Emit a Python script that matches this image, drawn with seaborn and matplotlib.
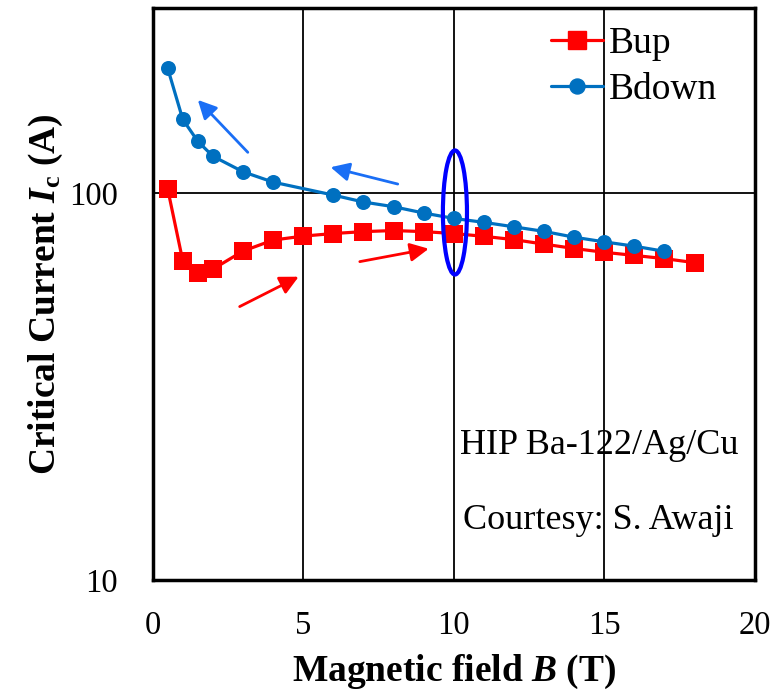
import numpy as np
import pandas as pd
import seaborn as sns
import matplotlib.pyplot as plt
from matplotlib.patches import Ellipse

# data
b_up = [0.5, 1, 1.5, 2, 3, 4, 5, 6, 7, 8, 9, 10, 11, 12, 13, 14, 15, 16, 17, 18]
ic_up = [102.4, 66.8, 62.3, 63.6, 70.8, 75.6, 77.4, 78.6, 79.5, 80.0, 79.5,
         78.6, 77.3, 75.8, 73.8, 71.9, 70.3, 69.0, 67.7, 66.1]
b_down = [0.5, 1, 1.5, 2, 3, 4, 6, 7, 8, 9, 10, 11, 12, 13, 14, 15, 16, 17]
ic_down = [210, 155, 136, 124.5, 113.5, 106.7, 98.8, 94.8, 92.2, 88.8, 86.0,
           84.0, 81.8, 79.6, 76.9, 74.8, 72.9, 70.7]

x_ticks = [0, 5, 10, 15, 20]
y_ticks = [10, 100]

# direction arrows: (tail x, tail y, head x, head y, colour)
arrows = [
    (3.16, 127.4, 1.5, 174.0, '#1a6ef5'),
    (8.14, 105.5, 5.91, 116.6, '#1a6ef5'),
    (2.89, 50.9, 4.85, 60.8, '#ff0000'),
    (6.88, 66.5, 9.17, 71.8, '#ff0000'),
]

df = pd.concat([
    pd.DataFrame({'B': b_up, 'Ic': ic_up, 'run': 'Bup'}),
    pd.DataFrame({'B': b_down, 'Ic': ic_down, 'run': 'Bdown'}),
], ignore_index=True)

sns.set_style('white')
plt.rcParams['font.family'] = ['Liberation Serif', 'DejaVu Serif']
plt.rcParams['text.color'] = 'black'
plt.rcParams['axes.labelcolor'] = 'black'
plt.rcParams['xtick.color'] = 'black'
plt.rcParams['ytick.color'] = 'black'
plt.rcParams['mathtext.fontset'] = 'custom'
plt.rcParams['mathtext.rm'] = 'Liberation Serif:bold'
plt.rcParams['mathtext.it'] = 'Liberation Serif:italic:bold'
plt.rcParams['mathtext.bf'] = 'Liberation Serif:bold'

fig = plt.figure(figsize=(7.71, 6.94), dpi=100)
ax = fig.add_axes([0.198, 0.164, 0.781, 0.824])

sns.lineplot(data=df, x='B', y='Ic', hue='run', style='run',
             palette={'Bup': '#ff0000', 'Bdown': '#0070c0'},
             markers={'Bup': 's', 'Bdown': 'o'}, dashes=False,
             markersize=12.5, markeredgewidth=0, linewidth=2.3,
             sort=False, ax=ax, legend=False)
# circles a touch smaller than squares
for line in ax.lines:
    if line.get_marker() == 'o':
        line.set_markersize(10.8)

ax.set_yscale('log')
ax.set_xlim(0, 20)
ax.set_ylim(10, 300)
ax.set_xticks(x_ticks)
ax.set_yticks(y_ticks)
ax.set_yticklabels([str(v) for v in y_ticks])
ax.minorticks_off()
ax.tick_params(axis='both', length=0, labelsize=23.5)
ax.tick_params(axis='x', pad=22)
ax.tick_params(axis='y', pad=25)

ax.grid(True, color='black', linewidth=1.3)
ax.set_axisbelow(True)
for s in ax.spines.values():
    s.set_color('black')
    s.set_linewidth(2.5)

ax.set_xlabel(r'Magnetic field $B$ (T)', fontsize=27, fontweight='bold', labelpad=8)
ax.set_ylabel(r'Critical Current $I_{\mathbf{c}}$ (A)', fontsize=27,
              fontweight='bold', labelpad=3)

for x0, y0, x1, y1, c in arrows:
    ax.annotate('', xy=(x1, y1), xytext=(x0, y0),
                arrowprops=dict(arrowstyle='-|>', color=c, lw=2,
                                mutation_scale=28, shrinkA=0, shrinkB=0))

ax.add_patch(Ellipse((0.502, 0.643), 0.040, 0.217, transform=ax.transAxes,
                     fill=False, edgecolor='#0000ff', linewidth=3, zorder=5))

ax.text(0.741, 0.236, 'HIP Ba-122/Ag/Cu', transform=ax.transAxes,
        fontsize=26, ha='center', va='center')
ax.text(0.740, 0.105, 'Courtesy: S. Awaji', transform=ax.transAxes,
        fontsize=26, ha='center', va='center')

handles = [
    plt.Line2D([], [], color='#ff0000', marker='s', markersize=12.5, lw=2.3),
    plt.Line2D([], [], color='#0070c0', marker='o', markersize=10.8, lw=2.3),
]
ax.legend(handles, ['Bup', 'Bdown'], loc='upper right', frameon=False,
          fontsize=27, handlelength=1.4, handletextpad=0.15, labelspacing=0.3,
          borderaxespad=0, bbox_to_anchor=(0.962, 0.994))

plt.savefig('out.png', dpi=100)
